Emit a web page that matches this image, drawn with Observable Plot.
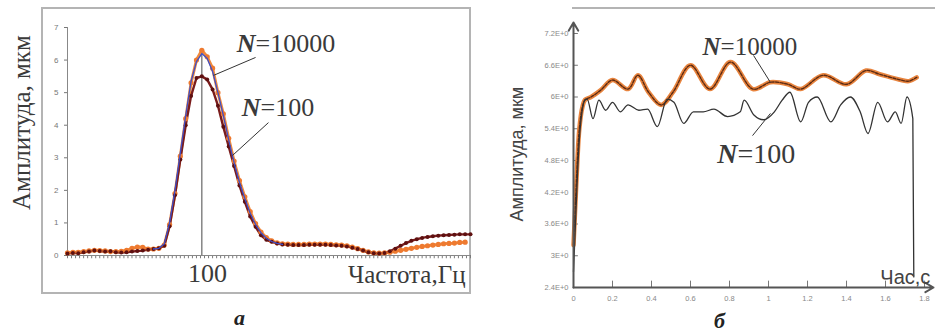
<!DOCTYPE html>
<html><head><meta charset="utf-8">
<script src="https://cdn.jsdelivr.net/npm/d3@7"></script>
<script src="https://cdn.jsdelivr.net/npm/@observablehq/plot@0.6"></script>
<style>
body{margin:0;background:#fff;}
#wrap{position:relative;width:935px;height:336px;overflow:hidden;background:#fff;}
#left,#right{position:absolute;top:0;}
#left{left:0;} #right{left:480px;}
.frameL{position:absolute;left:41px;top:7px;width:426px;height:283px;border:2px solid #b4b4b4;}
.frameR{position:absolute;left:572px;top:7px;width:370px;height:0;border-top:2px solid #b4b4b4;}
</style></head><body>
<div id="wrap"><div class="frameL"></div><div class="frameR"></div><div id="left"></div><div id="right"></div></div>
<script>
// ---- Panel a: amplitude vs frequency ----
const freq = [0,4,8,12,16,20,24,28,32,36,40,44,48,52,56,60,64,68,72,76,80,84,88,92,96,100,104,108,112,116,120,124,128,132,136,140,144,148,152,156,160,164,168,172,176,180,184,188,192,196,200,204,208,212,216,220,224,228,232,236,240,244,248,252,256,260,264,268,272,276,280,284,288,292,296,300];
const ampN100 = [0.06,0.08,0.07,0.1,0.12,0.15,0.14,0.12,0.13,0.1,0.09,0.1,0.12,0.14,0.15,0.18,0.2,0.22,0.3,0.9,1.85,2.95,4.0,4.9,5.45,5.5,5.4,5.1,4.6,3.95,3.35,2.75,2.15,1.65,1.2,0.88,0.62,0.48,0.42,0.37,0.34,0.33,0.32,0.32,0.32,0.33,0.33,0.33,0.33,0.32,0.31,0.3,0.28,0.24,0.2,0.15,0.1,0.07,0.06,0.08,0.13,0.21,0.3,0.38,0.45,0.5,0.54,0.57,0.59,0.61,0.62,0.63,0.64,0.65,0.65,0.65];
const ampN10000 = [0.08,0.1,0.1,0.12,0.14,0.16,0.15,0.14,0.12,0.12,0.13,0.16,0.22,0.26,0.25,0.2,0.2,0.22,0.32,0.95,1.9,3.05,4.2,5.3,6.0,6.3,6.1,5.75,5.0,4.35,3.6,2.9,2.3,1.8,1.35,0.98,0.72,0.55,0.45,0.39,0.36,0.35,0.34,0.34,0.34,0.35,0.35,0.35,0.35,0.34,0.33,0.32,0.3,0.26,0.21,0.16,0.11,0.08,0.07,0.08,0.1,0.13,0.16,0.19,0.22,0.25,0.28,0.3,0.32,0.34,0.36,0.37,0.38,0.4,0.41];
const freqBlue = freq.slice(16, 41);
const ampBlue = [0.2,0.22,0.35,1.0,2.0,3.15,4.3,5.35,5.95,6.2,6.05,5.65,5.0,4.3,3.55,2.85,2.25,1.75,1.3,0.95,0.7,0.53,0.43,0.37,0.34];
const yTicksL = [0,1,2,3,4,5,6,7];
const xMinorTicksL = [0,3,6,9,12,15,18,21,24,27,30,33,36,39,42,45,48,51,54,57,60,63,66,69,72,75,78,81,84,87,90,93,96,99,102,105,108,111,114,117,120,123,126,129,132,135,138,141,144,147,150,153,156,159,162,165,168,171,174,177,180,183,186,189,192,195,198,201,204,207,210,213,216,219,222,225,228,231,234,237,240,243,246,249,252,255,258,261,264,267,270,273,276,279,282,285,288,291,294,297,300];
const markFreq = 100;

// ---- Panel б: amplitude vs time ----
const t10000 = [0,0.01,0.02,0.03,0.045,0.06,0.09,0.14,0.2,0.28,0.33,0.385,0.45,0.51,0.6,0.7,0.805,0.92,1.01,1.1,1.165,1.28,1.4,1.5,1.57,1.68,1.72,1.76];
const a10000 = [3.2,4.0,4.8,5.4,5.8,5.95,6.0,6.13,6.32,6.15,6.41,6.09,5.85,6.09,6.6,6.15,6.66,6.15,6.28,6.24,6.15,6.41,6.24,6.5,6.43,6.32,6.3,6.37];
const t100 = [0,0.01,0.02,0.03,0.045,0.06,0.07,0.1,0.13,0.165,0.2,0.24,0.28,0.335,0.38,0.43,0.48,0.515,0.565,0.615,0.665,0.72,0.79,0.855,0.875,0.925,0.975,1.03,1.07,1.11,1.165,1.205,1.25,1.32,1.37,1.42,1.47,1.51,1.56,1.61,1.65,1.68,1.71,1.74,1.745];
const a100 = [2.7,3.6,4.5,5.2,5.75,5.95,5.96,5.59,5.94,5.75,5.9,5.72,5.85,5.75,5.77,5.44,5.96,5.9,5.5,5.72,5.72,5.77,5.63,5.72,5.94,5.66,5.57,5.72,5.94,6.09,5.53,5.9,6.0,5.53,5.85,6.0,5.72,5.31,5.9,5.53,5.72,5.5,6.0,5.59,2.6];
const xTicksR = [0,0.2,0.4,0.6,0.8,1,1.2,1.4,1.6,1.8];
const xLabelsR = ["0","0.2","0.4","0.6","0.8","1","1.2","1.4","1.6","1.8"];
const yTicksR = [2.4,3,3.6,4.2,4.8,5.4,6,6.6,7.2];
const yLabelsR = ["2.4E+0","3E+0","3.6E+0","4.2E+0","4.8E+0","5.4E+0","6E+0","6.6E+0","7.2E+0"];

const serif = "Liberation Serif, Times New Roman, serif";
const sans = "Liberation Sans, Arial, sans-serif";

const dN100 = freq.map((f, i) => ({f, a: ampN100[i]}));
const dN10000 = ampN10000.map((a, i) => ({f: freq[i], a}));
const dBlue = freqBlue.map((f, i) => ({f, a: ampBlue[i]}));

const left = Plot.plot({
  width: 470, height: 336,
  marginLeft: 67, marginRight: 0, marginTop: 27, marginBottom: 81,
  x: {domain: [0, 300], axis: null},
  y: {domain: [0, 7], ticks: yTicksL, tickSize: 3, tickPadding: 6, label: null, tickFormat: d => String(d)},
  style: {background: "transparent", overflow: "visible", fontFamily: sans, fontSize: "8px", color: "#777"},
  marks: [
    Plot.ruleX(xMinorTicksL, {x: d => d, y1: 0, y2: -0.1, stroke: "#7a7a7a", strokeWidth: 1}),
    Plot.ruleY([0], {x1: 0, x2: 300, stroke: "#888"}),
    Plot.ruleX([0], {y1: 0, y2: 7, stroke: "#888"}),
    Plot.ruleX([markFreq], {y1: 0, y2: 6.3, stroke: "#666", strokeWidth: 1.2}),
    Plot.line(dN10000, {x: "f", y: "a", stroke: "#f08a3c", strokeWidth: 3}),
    Plot.line(dN100, {x: "f", y: "a", stroke: "#7a1c1c", strokeWidth: 2.4}),
    Plot.dot(dN10000, {x: "f", y: "a", r: 2.6, fill: "#ee7a30"}),
    Plot.dot(dN100, {x: "f", y: "a", r: 2, fill: "#5e1010"}),
    Plot.line(dBlue, {x: "f", y: "a", stroke: "#3f4fc8", strokeWidth: 1.3}),
    Plot.link([0], {x1: 140, y1: 6.08, x2: 108.7, y2: 5.53, stroke: "#333", strokeWidth: 1}),
    Plot.link([0], {x1: 149.6, y1: 4.08, x2: 122.8, y2: 3.07, stroke: "#333", strokeWidth: 1}),
    Plot.text(["N"], {x: 140, y: 6.49, textAnchor: "end", fontFamily: serif, fontSize: 26, fontStyle: "italic", fontWeight: "bold", fill: "#3a3a3a"}),
    Plot.text(["=10000"], {x: 140, y: 6.49, textAnchor: "start", fontFamily: serif, fontSize: 26, fill: "#3a3a3a"}),
    Plot.text(["N"], {x: 143.7, y: 4.55, textAnchor: "end", fontFamily: serif, fontSize: 26, fontStyle: "italic", fontWeight: "bold", fill: "#3a3a3a"}),
    Plot.text(["=100"], {x: 143.7, y: 4.55, textAnchor: "start", fontFamily: serif, fontSize: 26, fill: "#3a3a3a"}),
    Plot.text(["100"], {x: 104.2, y: -0.55, fontFamily: serif, fontSize: 26, fill: "#3a3a3a"}),
    Plot.text(["Частота,Гц"], {x: 296.3, y: -0.61, textAnchor: "end", fontFamily: serif, fontSize: 25, fill: "#3a3a3a"}),
    Plot.text(["Амплитуда, мкм"], {x: -33.5, y: 4.08, rotate: -90, fontFamily: serif, fontSize: 25, fill: "#3a3a3a"}),
    Plot.text(["а"], {x: 128, y: -1.93, fontFamily: serif, fontSize: 22, fontStyle: "italic", fontWeight: "bold", fill: "#222"})
  ]
});
document.getElementById("left").appendChild(left);

const d10000 = t10000.map((t, i) => ({t, a: a10000[i]}));
const d100 = t100.map((t, i) => ({t, a: a100[i]}));

const right = Plot.plot({
  width: 455, height: 336,
  marginLeft: 93, marginRight: 2, marginTop: 22, marginBottom: 49,
  x: {domain: [0, 1.846], ticks: xTicksR, tickFormat: d => xLabelsR[xTicksR.indexOf(d)], tickSize: 0, tickPadding: 8, label: null},
  y: {domain: [2.4, 7.408], ticks: yTicksR, tickFormat: d => yLabelsR[yTicksR.indexOf(d)], tickSize: 0, tickPadding: 5, label: null},
  style: {background: "transparent", overflow: "visible", fontFamily: sans, fontSize: "7.5px", color: "#888"},
  marks: [
    Plot.ruleY(yTicksR, {y: d => d, x1: 0, x2: 0.025, stroke: "#777"}),
    Plot.ruleX(xTicksR, {x: d => d, y1: 2.4, y2: 2.52, stroke: "#777"}),
    Plot.line(d10000, {x: "t", y: "a", stroke: "#e8843e", strokeWidth: 4.5, curve: "catmull-rom"}),
    Plot.line(d10000, {x: "t", y: "a", stroke: "#5b2a12", strokeWidth: 1.4, strokeDasharray: "3,1.5", curve: "catmull-rom"}),
    Plot.line(d100, {x: "t", y: "a", stroke: "#333", strokeWidth: 1.3, curve: "monotone-x"}),
    Plot.arrow([0], {x1: 0, y1: 2.4, x2: 0, y2: 7.408, stroke: "#555", strokeWidth: 2, headLength: 7, insetEnd: 0}),
    Plot.arrow([0], {x1: 0, y1: 2.4, x2: 1.846, y2: 2.4, stroke: "#555", strokeWidth: 2, headLength: 7, insetEnd: 0}),
    Plot.link([0], {x1: 0.923, y1: 6.786, x2: 1.01, y2: 6.275, stroke: "#333", strokeWidth: 1}),
    Plot.link([0], {x1: 0.918, y1: 5.27, x2: 1.01, y2: 5.69, stroke: "#333", strokeWidth: 1}),
    Plot.text(["N"], {x: 0.754, y: 6.94, textAnchor: "end", fontFamily: serif, fontSize: 25, fontStyle: "italic", fontWeight: "bold", fill: "#3a3a3a"}),
    Plot.text(["=10000"], {x: 0.754, y: 6.94, textAnchor: "start", fontFamily: serif, fontSize: 25, fill: "#3a3a3a"}),
    Plot.text(["N"], {x: 0.841, y: 4.914, textAnchor: "end", fontFamily: serif, fontSize: 28, fontStyle: "italic", fontWeight: "bold", fill: "#3a3a3a"}),
    Plot.text(["=100"], {x: 0.841, y: 4.914, textAnchor: "start", fontFamily: serif, fontSize: 28, fill: "#3a3a3a"}),
    Plot.text(["Час,с"], {x: 1.83, y: 2.58, textAnchor: "end", fontFamily: sans, fontSize: 20, fill: "#444"}),
    Plot.text(["Амплитуда, мкм"], {x: -0.287, y: 4.92, rotate: -90, fontFamily: sans, fontSize: 18, fill: "#444"}),
    Plot.text(["б"], {x: 0.749, y: 1.776, fontFamily: serif, fontSize: 22, fontStyle: "italic", fontWeight: "bold", fill: "#222"})
  ]
});
document.getElementById("right").appendChild(right);
</script>
</body></html>
